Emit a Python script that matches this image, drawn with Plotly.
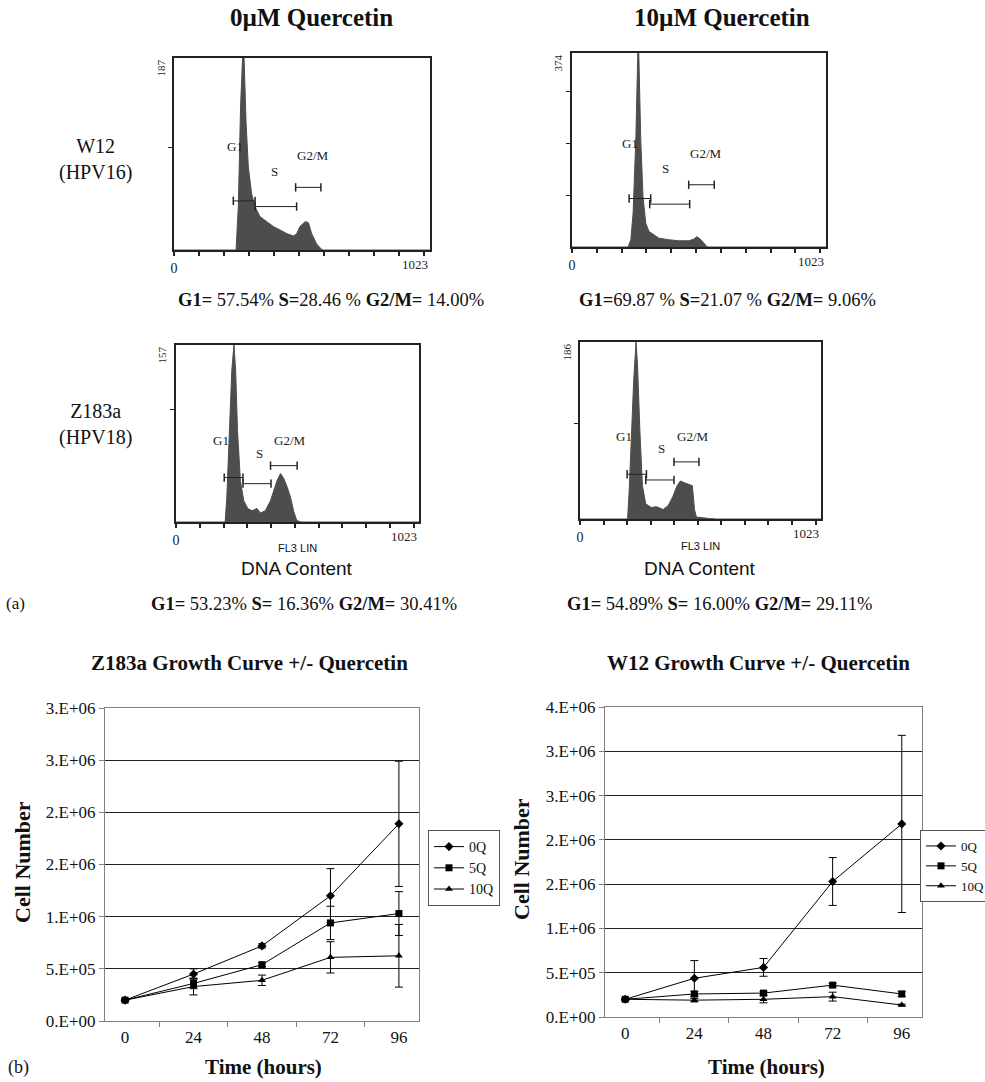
import plotly.graph_objects as go

W, H = 985, 1082
SERIF = "Liberation Serif"
SANS = "Liberation Sans"

# ---------------- (a) DNA histograms: channel vs count ----------------
w12_0_ch = [0, 248, 257, 266, 274, 280, 288, 297, 310, 324, 344, 370, 397, 424, 450, 477, 490, 503, 524, 537, 550, 570, 590, 597, 1023]
w12_0_ct = [0, 0, 42, 140, 187, 187, 124, 81, 55, 42, 32.5, 27.6, 22.8, 19.5, 16, 13.7, 15.6, 22.8, 27.6, 26.7, 16, 5.9, 0.6, 0, 0]

w12_10_ch = [0, 226, 237, 246, 257, 265, 269, 277, 286, 297, 310, 330, 350, 390, 430, 470, 490, 503, 517, 530, 543, 550, 1023]
w12_10_ct = [0, 0, 14, 65, 206, 374, 374, 206, 97, 46, 30, 24, 17, 14, 12, 12, 15, 20, 15, 8, 1, 0, 0]

z183_0_ch = [0, 207, 214, 224, 235, 244, 251, 259, 271, 285, 302, 320, 341, 355, 376, 398, 412, 426, 440, 454, 468, 482, 496, 508, 525, 1023]
z183_0_ct = [0, 0, 22, 81, 135, 157, 135, 81, 37, 19, 12, 10, 12, 8, 10, 19, 28, 37, 43, 38.5, 31, 22, 9, 1.5, 0, 0]

z183_10_ch = [0, 202, 209, 219, 228, 238, 244, 254, 265, 279, 303, 324, 353, 374, 395, 412, 426, 444, 465, 477, 486, 494, 550, 578, 1023]
z183_10_ct = [0, 0, 31, 94, 146, 186, 163, 94, 35, 16, 12, 13, 10, 14, 24, 35, 40, 38, 36.5, 35, 10, 2, 0.5, 0, 0]

hist_max = [187, 374, 157, 186]
gate_names = ["G1", "S", "G2/M"]
# gates: (start channel, end channel, marker height)
gates_w12_0 = [(237, 324, 47.8), (324, 490, 42.3), (486, 587, 61)]
gates_w12_10 = [(230, 317, 93.5), (313, 474, 82.6), (470, 573, 120)]
gates_z183_0 = [(203, 282, 39.4), (282, 400, 34), (398, 510, 50)]
gates_z183_10 = [(200, 282, 47), (279, 399, 41), (399, 505, 60)]

pct_texts = [
    "<b>G1=</b> 57.54% <b>S=</b>28.46 % <b>G2/M=</b> 14.00%",
    "<b>G1=</b>69.87 % <b>S=</b>21.07 % <b>G2/M=</b> 9.06%",
    "<b>G1=</b> 53.23% <b>S=</b> 16.36% <b>G2/M=</b> 30.41%",
    "<b>G1=</b> 54.89% <b>S=</b> 16.00% <b>G2/M=</b> 29.11%",
]

# ---------------- (b) growth curves ----------------
hours = ["0", "24", "48", "72", "96"]
series_names = ["0Q", "5Q", "10Q"]

z_0q = [2.0e5, 4.5e5, 7.2e5, 1.20e6, 1.89e6]
z_0q_err = [1.0e4, 5.0e4, 2.0e4, 2.6e5, 6.0e5]
z_5q = [2.0e5, 3.6e5, 5.4e5, 9.4e5, 1.03e6]
z_5q_err = [1.0e4, 5.0e4, 2.0e4, 1.6e5, 2.1e5]
z_10q = [2.0e5, 3.3e5, 3.9e5, 6.1e5, 6.25e5]
z_10q_err = [1.0e4, 8.0e4, 5.0e4, 1.5e5, 3.0e5]

w_0q = [2.0e5, 4.37e5, 5.6e5, 1.53e6, 2.18e6]
w_0q_err = [1.0e4, 2.0e5, 1.0e5, 2.7e5, 1.0e6]
w_5q = [2.0e5, 2.6e5, 2.7e5, 3.6e5, 2.6e5]
w_5q_err = [1.0e4, 3.0e4, 2.0e4, 2.0e4, 3.0e4]
w_10q = [2.0e5, 1.9e5, 2.0e5, 2.3e5, 1.35e5]
w_10q_err = [1.0e4, 2.0e4, 4.0e4, 5.0e4, 1.0e4]

z_tickvals = [0, 5e5, 1e6, 1.5e6, 2e6, 2.5e6, 3e6]
z_ticktext = ["0.E+00", "5.E+05", "1.E+06", "2.E+06", "2.E+06", "3.E+06", "3.E+06"]
w_tickvals = [0, 5e5, 1e6, 1.5e6, 2e6, 2.5e6, 3e6, 3.5e6]
w_ticktext = ["0.E+00", "5.E+05", "1.E+06", "2.E+06", "2.E+06", "3.E+06", "3.E+06", "4.E+06"]

# ---------------- layout helpers ----------------
def dx(a, b):
    return [a / W, b / W]

def dy(top, bottom):
    return [1 - bottom / H, 1 - top / H]

def px(x):
    return x / W

def py(y):
    return 1 - y / H

fig = go.Figure()

hists = [
    (w12_0_ch, w12_0_ct, gates_w12_0),
    (w12_10_ch, w12_10_ct, gates_w12_10),
    (z183_0_ch, z183_0_ct, gates_z183_0),
    (z183_10_ch, z183_10_ct, gates_z183_10),
]
hist_dom = [
    (dx(174, 430), dy(58, 250)),
    (dx(572, 826), dy(53, 247)),
    (dx(176, 419), dy(345, 522)),
    (dx(580, 821), dy(342, 519)),
]
label_pos = [
    [(244, 101), (401, 76), (557, 92)],
    [(234, 200), (377, 152), (539, 181)],
    [(189, 72.6), (351, 61), (479, 72.6)],
    [(188, 87), (348, 74), (479, 87)],
]

annotations = []
HCOL = "#4d4d4d"
for i, (ch, ct, gates) in enumerate(hists):
    n = i + 1
    xa = "x" if n == 1 else f"x{n}"
    ya = "y" if n == 1 else f"y{n}"
    fig.add_trace(go.Scatter(x=ch, y=ct, mode="lines", fill="tozeroy",
                             fillcolor=HCOL, line=dict(color=HCOL, width=1),
                             xaxis=xa, yaxis=ya, showlegend=False, hoverinfo="skip"))
    for (a, b, h) in gates:
        fig.add_trace(go.Scatter(x=[a, b], y=[h, h], mode="lines+markers",
                                 line=dict(color="#222", width=1),
                                 marker=dict(symbol="line-ns-open", size=6,
                                             line=dict(color="#222", width=1.5)),
                                 xaxis=xa, yaxis=ya, showlegend=False, hoverinfo="skip"))
    for name, (lx, ly) in zip(gate_names, label_pos[i]):
        annotations.append(dict(x=lx, y=ly, xref=xa, yref=ya, text=name, showarrow=False,
                                xanchor="center", yanchor="middle",
                                font=dict(family=SERIF, size=13, color="#222")))
    ymax = hist_max[i]
    annotations.append(dict(x=0, y=ymax, xref=xa, yref=ya, text=str(ymax), showarrow=False,
                            textangle=-90, xanchor="right", yanchor="top", xshift=-6,
                            font=dict(family=SERIF, size=11, color="#222")))
    annotations.append(dict(x=1023, y=0, xref=xa, yref=ya, text="1023", showarrow=False,
                            xanchor="right", yanchor="top", yshift=-5,
                            font=dict(family=SERIF, size=13, color="#222")))
    xd, yd = hist_dom[i]
    fig.layout[f"xaxis{'' if n == 1 else n}"] = dict(
        domain=xd, anchor=ya, range=[0, 1023], showgrid=False, zeroline=False,
        automargin=False,
        showline=True, mirror=True, linecolor="#222", linewidth=1.5,
        ticks="outside", ticklen=4, tickwidth=1.5, tickcolor="#222",
        tickvals=list(range(0, 1001, 100)), ticktext=["0"] + [""] * 10,
        tickfont=dict(family=SERIF, size=14, color="#222"))
    fig.layout[f"yaxis{'' if n == 1 else n}"] = dict(
        domain=yd, anchor=xa, range=[0, ymax], showgrid=False, zeroline=False,
        automargin=False,
        showline=True, mirror=True, linecolor="#222", linewidth=1.5,
        ticks="outside", ticklen=4, tickwidth=1, tickcolor="#222",
        tickvals=list(range(100, ymax, 100)), showticklabels=False)

# ---------------- growth curves ----------------
growth = [
    ("x5", "y5", "legend", [(z_0q, z_0q_err), (z_5q, z_5q_err), (z_10q, z_10q_err)]),
    ("x6", "y6", "legend2", [(w_0q, w_0q_err), (w_5q, w_5q_err), (w_10q, w_10q_err)]),
]
symbols = ["diamond", "square", "triangle-up"]
for xa, ya, lg, ser in growth:
    for name, (vals, err), sym in zip(series_names, ser, symbols):
        fig.add_trace(go.Scatter(x=hours, y=vals, name=name, mode="lines+markers",
                                 line=dict(color="black", width=1),
                                 marker=dict(symbol=sym, size=7, color="black"),
                                 error_y=dict(type="data", array=err, color="black",
                                              thickness=1, width=4),
                                 xaxis=xa, yaxis=ya, legend=lg))

GRAY = "#808080"
for n, xd, yd, tv, tt, yr in [
    (5, dx(105, 419), dy(708, 1021), z_tickvals, z_ticktext, [0, 3e6]),
    (6, dx(605, 922), dy(707, 1017), w_tickvals, w_ticktext, [0, 3.5e6]),
]:
    fig.layout[f"xaxis{n}"] = dict(
        domain=xd, anchor=f"y{n}", type="category", showgrid=False, zeroline=False,
        automargin=False,
        showline=True, mirror=True, linecolor=GRAY, linewidth=1.2,
        ticks="outside", tickson="boundaries", ticklen=5, tickcolor=GRAY,
        tickfont=dict(family=SERIF, size=17, color="#111"))
    fig.layout[f"yaxis{n}"] = dict(
        domain=yd, anchor=f"x{n}", range=yr, showgrid=True, gridcolor="#222",
        gridwidth=1, zeroline=False, showline=True, mirror=True, linecolor=GRAY,
        automargin=False,
        linewidth=1.2, ticks="outside", ticklen=5, tickcolor=GRAY,
        tickvals=tv, ticktext=tt,
        tickfont=dict(family=SERIF, size=17, color="#111"))

leg_style = dict(bgcolor="white", bordercolor="#555", borderwidth=1,
                 font=dict(family=SERIF, size=14, color="#111"),
                 xanchor="left", yanchor="top", itemwidth=30, tracegroupgap=0,
                 xref="container", yref="container")

# ---------------- free text ----------------
def txt(x, y, text, size, family=SERIF, **kw):
    d = dict(x=px(x), y=py(y), xref="paper", yref="paper", text=text, showarrow=False,
             xanchor="center", yanchor="middle",
             font=dict(family=family, size=size, color="#111"))
    d.update(kw)
    annotations.append(d)

txt(311, 18, "<b>0µM Quercetin</b>", 25)
txt(722, 18, "<b>10µM Quercetin</b>", 25)
txt(95, 160, "W12<br>(HPV16)", 20)
txt(95, 424, "Z183a<br>(HPV18)", 20)
txt(331, 300, pct_texts[0], 18.5)
txt(727, 300, pct_texts[1], 18.5)
txt(304, 604, pct_texts[2], 18.5)
txt(719, 604, pct_texts[3], 18.5)
txt(297, 548, "FL3 LIN", 11, SANS)
txt(700, 546, "FL3 LIN", 11, SANS)
txt(297, 568, "DNA Content", 19, SANS)
txt(700, 568, "DNA Content", 19, SANS)
txt(15, 603, "(a)", 17)
txt(18, 1067, "(b)", 18)
txt(250, 663, "<b>Z183a Growth Curve +/- Quercetin</b>", 21)
txt(758, 663, "<b>W12 Growth Curve +/- Quercetin</b>", 21)
# axis titles of the growth charts
txt(22, 862, "<b>Cell Number</b>", 22, textangle=-90)
txt(522, 859, "<b>Cell Number</b>", 22, textangle=-90)
txt(263, 1067, "<b>Time (hours)</b>", 21)
txt(766, 1067, "<b>Time (hours)</b>", 21)

fig.update_layout(
    width=W, height=H, margin=dict(l=0, r=0, t=0, b=0, autoexpand=False),
    paper_bgcolor="white", plot_bgcolor="white",
    annotations=annotations,
    legend=dict(x=px(428), y=py(830), **leg_style),
    legend2=dict(x=px(920), y=py(830), **dict(leg_style, font=dict(family=SERIF, size=13, color="#111"))),
    font=dict(family=SERIF, color="#111"),
)

fig.write_html("out.html", config={"displayModeBar": False},
               post_script="document.body.style.margin='0';document.body.style.padding='0';")
